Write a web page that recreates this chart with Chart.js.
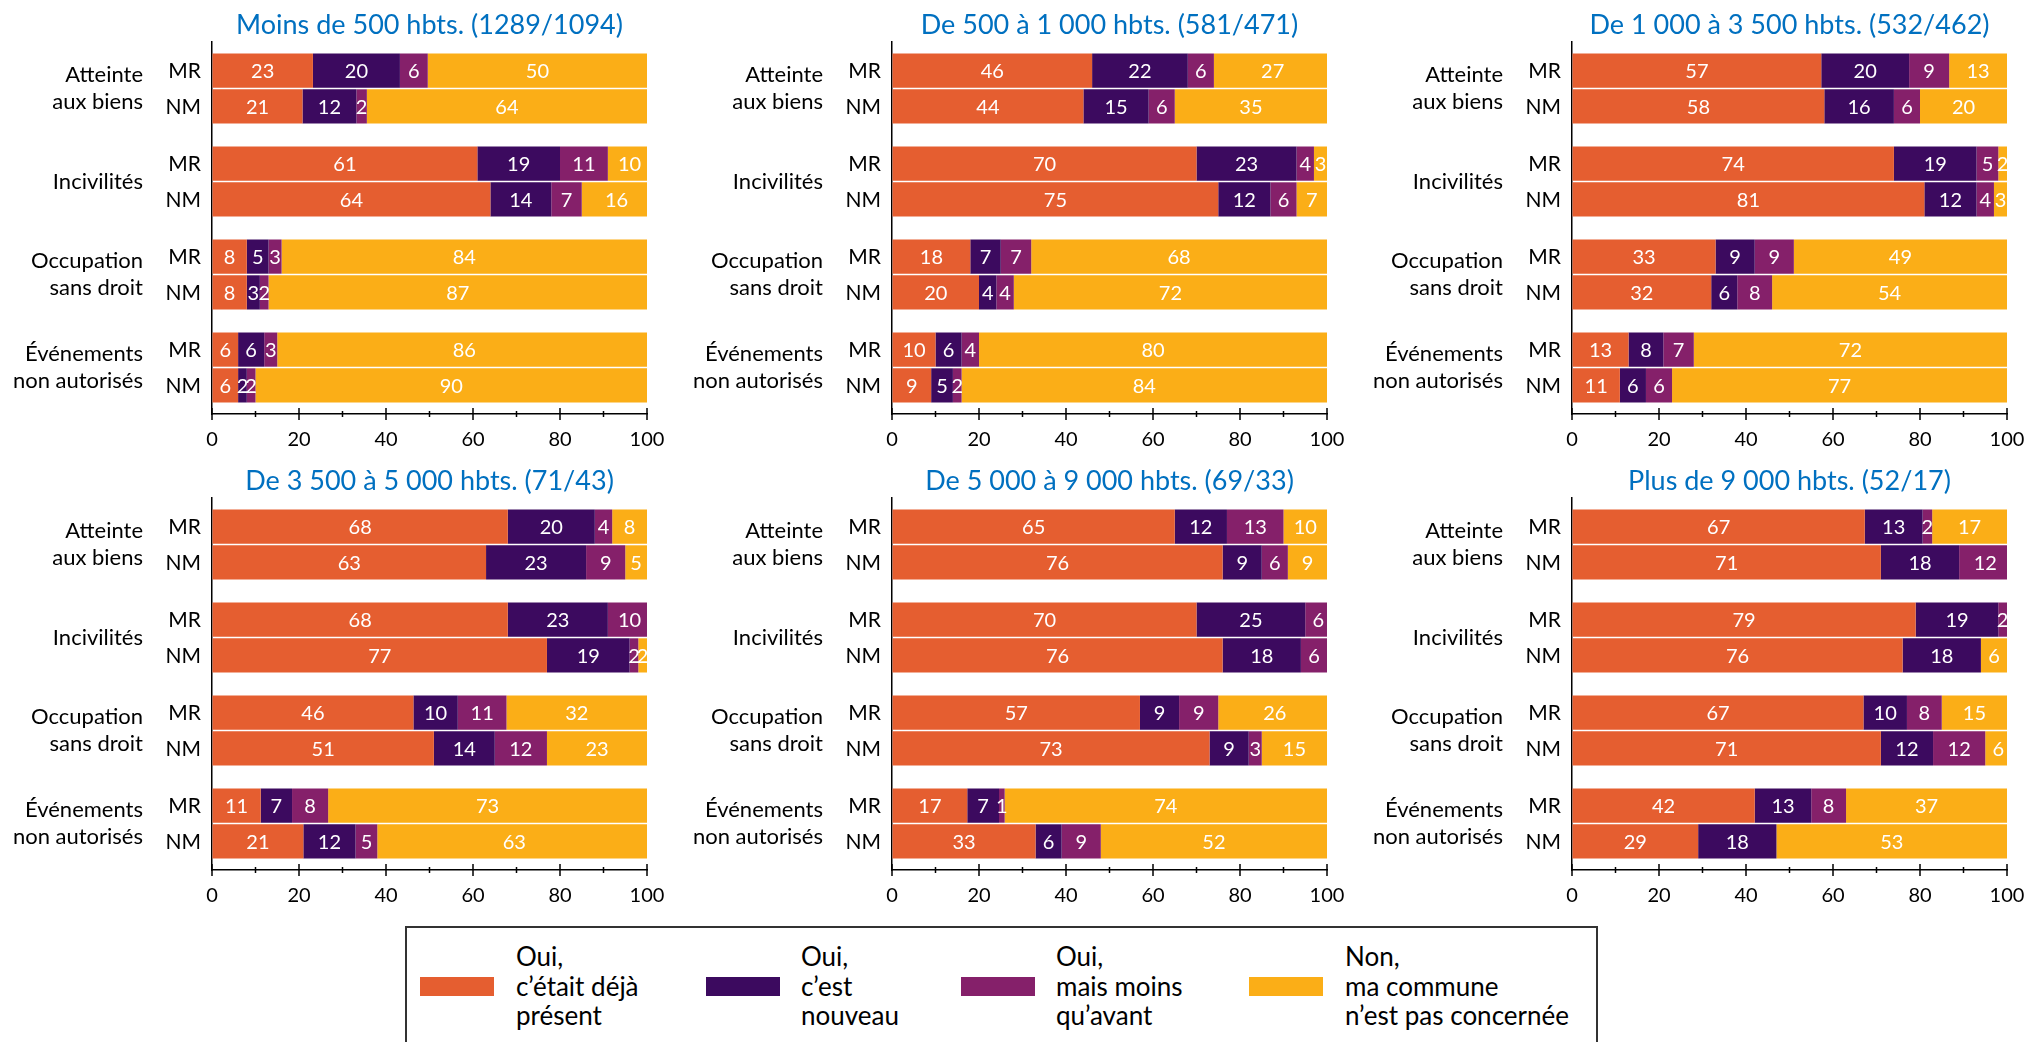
<!DOCTYPE html>
<html lang="fr">
<head>
<meta charset="utf-8">
<title>Problèmes constatés selon la taille de la commune</title>
<script src="https://cdn.jsdelivr.net/npm/chart.js@4.4.1/dist/chart.umd.min.js"></script>
<style>
    html, body {
        margin: 0;
        padding: 0;
        background: #fff;
    }

    body {
        position: relative;
        width: 2028px;
        height: 1042px;
        overflow: hidden;
        font-family: Lato, "Noto Sans", sans-serif;
    }

    .panel {
        position: absolute;
        width: 668px;
        height: 455px;
    }

    #legend {
        position: absolute;
        left: 405px;
        top: 926px;
        width: 1193px;
        height: 140px;
        border: 2px solid #333;
        box-sizing: border-box;
    }

    .swatch {
        position: absolute;
        top: 49px;
        width: 74px;
        height: 19px;
    }

    .legend-text {
        position: absolute;
        top: 14px;
        font-size: 26px;
        line-height: 29.5px;
        color: #000;
        white-space: nowrap;
    }
</style>
</head>
<body>

<div class="panel" style="left:0px;top:0px"><canvas id="p0"></canvas></div>
<div class="panel" style="left:680px;top:0px"><canvas id="p1"></canvas></div>
<div class="panel" style="left:1360px;top:0px"><canvas id="p2"></canvas></div>
<div class="panel" style="left:0px;top:456px"><canvas id="p3"></canvas></div>
<div class="panel" style="left:680px;top:456px"><canvas id="p4"></canvas></div>
<div class="panel" style="left:1360px;top:456px"><canvas id="p5"></canvas></div>

<div id="legend"></div>

<script>
// ---- data ----
const categories = [
    ["Atteinte", "aux biens"],
    "Incivilités",
    ["Occupation", "sans droit"],
    ["Événements", "non autorisés"]
];

const groups = ["MR", "NM"];

const seriesNames = [
    "Oui,\nc’était déjà\nprésent",
    "Oui,\nc’est\nnouveau",
    "Oui,\nmais moins\nqu’avant",
    "Non,\nma commune\nn’est pas concernée"
];

const tickLabels = [0, 20, 40, 60, 80, 100];

const panelTitles = [
    "Moins de 500 hbts. (1289/1094)",
    "De 500 à 1 000 hbts. (581/471)",
    "De 1 000 à 3 500 hbts. (532/462)",
    "De 3 500 à 5 000 hbts. (71/43)",
    "De 5 000 à 9 000 hbts. (69/33)",
    "Plus de 9 000 hbts. (52/17)"
];

// one row per category, one column per answer (%, labels are rounded)
const moins500MR = [[23.2, 20, 6.4, 50.4], [61, 19, 11, 10], [8, 5, 3, 84], [6, 6, 3, 86]];
const moins500NM = [[20.8, 12.4, 2.4, 64.4], [64, 14, 7, 16], [8, 3, 2, 87], [6, 2, 2, 90]];

const de500MR = [[46, 22, 6, 27], [70, 23, 4, 3], [18, 7, 7, 68], [10, 6, 4, 80]];
const de500NM = [[44, 15, 6, 35], [75, 12, 6, 7], [20, 4, 4, 72], [9, 5, 2, 84]];

const de1000MR = [[57.3, 20.2, 9.2, 13.3], [74, 19, 5, 2], [33, 9, 9, 49], [13, 8, 7, 72]];
const de1000NM = [[58, 16, 6, 20], [81, 12, 4, 3], [32, 6, 8, 54], [11, 6, 6, 77]];

const de3500MR = [[68, 20, 4, 8], [68, 23, 10, 0], [46.3, 10.2, 11.2, 32.3], [11.2, 7.2, 8.3, 73.3]];
const de3500NM = [[63, 23, 9, 5], [77, 19, 2, 2], [51, 14, 12, 23], [21, 12, 5, 63]];

const de5000MR = [[65, 12, 13, 10], [70, 25, 6, 0], [57, 9, 9, 26], [17.3, 7.3, 1.3, 74.1]];
const de5000NM = [[76, 9, 6, 9], [76, 18, 6, 0], [73, 9, 3, 15], [33, 6, 9, 52]];

const plus9000MR = [[67.3, 13.3, 2.2, 17.2], [79, 19, 2, 0], [67, 10, 8, 15], [42, 13, 8, 37]];
const plus9000NM = [[71, 18, 12, 0], [76, 18, 0, 6], [71, 12, 12, 6], [29, 18, 0, 53]];

const panelValues = [
    [moins500MR, moins500NM],
    [de500MR, de500NM],
    [de1000MR, de1000NM],
    [de3500MR, de3500NM],
    [de5000MR, de5000NM],
    [plus9000MR, plus9000NM]
];

// ---- style ----
const COLORS = ["#E55E30", "#3C0A5F", "#85206A", "#FBAE17"];
const FONT = "Lato, 'Noto Sans', sans-serif";

// values inside the bars, MR / NM labels and the crossing ticks of the x axis
const barText = {
    id: "barText",

    afterDatasetsDraw(chart) {
        const ctx = chart.ctx;
        const area = chart.chartArea;

        ctx.save();
        ctx.font = "20px " + FONT;
        ctx.fillStyle = "#fff";
        ctx.textAlign = "center";
        ctx.textBaseline = "middle";

        chart.data.datasets.forEach((ds, i) => {
            chart.getDatasetMeta(i).data.forEach((bar, j) => {
                const v = Math.round(ds.data[j]);
                if (!v) {
                    return;
                }
                const c = bar.getCenterPoint();
                ctx.fillText(v, c.x, c.y + 1);
            });
        });

        ctx.fillStyle = "#000";
        ctx.textAlign = "right";
        ctx.font = "21px " + FONT;

        groups.forEach((g, k) => {
            const meta = chart.getDatasetMeta(k * seriesNames.length);
            meta.data.forEach(bar => {
                ctx.fillText(g, area.left - 11, bar.y + 1);
            });
        });

        const x = chart.scales.x;
        ctx.strokeStyle = "#000";
        ctx.lineWidth = 1.5;

        x.ticks.forEach(t => {
            const px = x.getPixelForValue(t.value);
            const h = tickLabels.includes(t.value) ? 6 : 3;
            ctx.beginPath();
            ctx.moveTo(px, area.bottom - h);
            ctx.lineTo(px, area.bottom + h);
            ctx.stroke();
        });

        ctx.restore();
    }
};

function makePanel(canvas, title, values) {
    const datasets = [];

    groups.forEach((g, k) => {
        seriesNames.forEach((name, s) => {
            datasets.push({
                label: name,
                stack: g,
                data: values[k].map(row => row[s]),
                backgroundColor: COLORS[s],
                borderWidth: 0,
                categoryPercentage: 0.77,
                barPercentage: 0.955
            });
        });
    });

    return new Chart(canvas, {
        type: "bar",

        data: {
            labels: categories,
            datasets: datasets
        },

        options: {
            indexAxis: "y",
            responsive: true,
            maintainAspectRatio: false,
            animation: false,
            devicePixelRatio: 1,

            layout: {
                padding: { left: 0, right: 21, top: 0, bottom: 0 }
            },

            plugins: {
                legend: { display: false },
                tooltip: { enabled: false },
                title: {
                    display: true,
                    text: title,
                    color: "#0070C0",
                    fullSize: false,
                    font: { family: FONT, size: 27, weight: "normal" },
                    padding: { top: 9, bottom: 0.6 }
                }
            },

            scales: {
                x: {
                    stacked: true,
                    min: 0,
                    max: 100,
                    grid: {
                        drawOnChartArea: false,
                        tickLength: 14,
                        tickColor: "transparent"
                    },
                    border: { color: "#000", width: 1.5 },
                    ticks: {
                        stepSize: 10,
                        autoSkip: false,
                        maxRotation: 0,
                        color: "#000",
                        padding: 0,
                        font: { family: FONT, size: 20 },
                        callback: v => (tickLabels.includes(v) ? v : "")
                    },
                    afterFit(scale) {
                        scale.height = 41;
                    }
                },

                y: {
                    stacked: true,
                    grid: {
                        drawOnChartArea: false,
                        tickLength: 69,
                        tickColor: "transparent"
                    },
                    border: { color: "#000", width: 1.5 },
                    ticks: {
                        autoSkip: false,
                        color: "#000",
                        padding: 0,
                        font: { family: FONT, size: 22 }
                    },
                    afterFit(scale) {
                        scale.width = 212;
                    }
                }
            }
        },

        plugins: [barText]
    });
}

panelTitles.forEach((t, i) => {
    makePanel(document.getElementById("p" + i), t, panelValues[i]);
});

// ---- legend ----
const legend = document.getElementById("legend");
const swatchLeft = [12.5, 299, 554, 842];
const textLeft = [109, 394, 649, 938];

seriesNames.forEach((name, s) => {
    const sw = document.createElement("div");
    sw.className = "swatch";
    sw.style.left = swatchLeft[s] + "px";
    sw.style.background = COLORS[s];
    legend.appendChild(sw);

    const tx = document.createElement("div");
    tx.className = "legend-text";
    tx.style.left = textLeft[s] + "px";
    name.split("\n").forEach((line, n) => {
        if (n) {
            tx.appendChild(document.createElement("br"));
        }
        tx.appendChild(document.createTextNode(line));
    });
    legend.appendChild(tx);
});
</script>
</body>
</html>
